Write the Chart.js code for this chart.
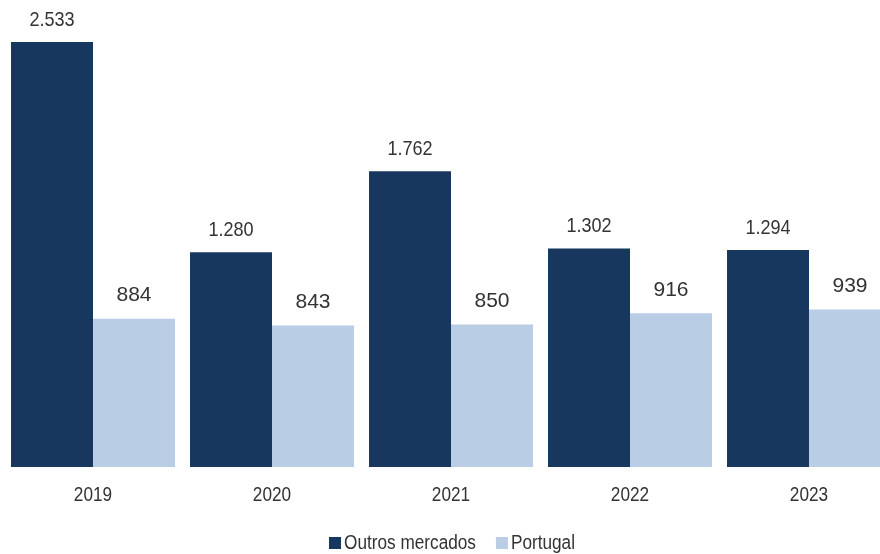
<!DOCTYPE html>
<html>
<head>
<meta charset="utf-8">
<script src="https://cdn.jsdelivr.net/npm/chart.js@4"></script>
<style>
  html, body { margin: 0; padding: 0; background: #fff; overflow: hidden; }
  #wrap { width: 902px; height: 554px; }
</style>
</head>
<body>
<div id="wrap"><canvas id="myChart" width="902" height="554"></canvas></div>
<script>
const years = ['2019', '2020', '2021', '2022', '2023']
const outrosMercados = [2533, 1280, 1762, 1302, 1294]
const portugal = [884, 843, 850, 916, 939]

const fontFamily = "'Liberation Sans', Arial, sans-serif"
const textColor = '#333333'
const narrowScale = 0.86 // the source uses a condensed face, squeeze the text instead

// 2533 -> "2.533"
const fmt = v => String(v).replace(/\B(?=(\d{3})+(?!\d))/g, '.')

// text drawn with an horizontal squeeze around x
function narrowText(ctx, text, x, y, align) {
  ctx.save()
  ctx.translate(x, y)
  ctx.scale(narrowScale, 1)
  ctx.textAlign = align || 'center'
  ctx.fillText(text, 0, 0)
  ctx.restore()
}

const extraText = {
  id: 'extraText',
  afterDatasetsDraw(chart) {
    const ctx = chart.ctx
    const area = chart.chartArea
    ctx.save()
    ctx.fillStyle = textColor
    ctx.textBaseline = 'middle'

    // values above the bars
    ctx.font = '21px ' + fontFamily
    chart.data.datasets.forEach((ds, i) => {
      chart.getDatasetMeta(i).data.forEach((bar, j) => {
        if (i === 0) {
          narrowText(ctx, fmt(ds.data[j]), bar.x, bar.y - 22)
        } else {
          ctx.textAlign = 'center'
          ctx.fillText(fmt(ds.data[j]), bar.x, bar.y - 23)
        }
      })
    })

    // category labels
    const xScale = chart.scales.x
    ctx.font = '20px ' + fontFamily
    chart.data.labels.forEach((lab, i) => {
      narrowText(ctx, lab, xScale.getPixelForTick(i), area.bottom + 28)
    })

    // legend
    const box = 12, gap = 3, itemGap = 20
    const items = chart.data.datasets.map(ds => ({
      text: ds.label,
      color: ds.backgroundColor,
      w: ctx.measureText(ds.label).width * narrowScale
    }))
    const total = items.reduce((s, it) => s + box + gap + it.w, 0) + itemGap * (items.length - 1)
    let x = (area.left + area.right) / 2 + 1 - total / 2
    const y = area.bottom + 76
    items.forEach(it => {
      ctx.fillStyle = it.color
      ctx.fillRect(x, y - box / 2, box, box)
      ctx.fillStyle = textColor
      narrowText(ctx, it.text, x + box + gap, y, 'left')
      x += box + gap + it.w + itemGap
    })
    ctx.restore()
  }
}

new Chart(document.getElementById('myChart'), {
  type: 'bar',
  data: {
    labels: years,
    datasets: [
      {
        label: 'Outros mercados',
        data: outrosMercados,
        backgroundColor: '#17375E',
        categoryPercentage: 0.916,
        barPercentage: 1
      },
      {
        label: 'Portugal',
        data: portugal,
        backgroundColor: '#B9CDE5',
        categoryPercentage: 0.916,
        barPercentage: 1
      }
    ]
  },
  options: {
    responsive: false,
    animation: false,
    layout: { padding: { left: 3.5, right: 3.5, top: 20, bottom: 87 } },
    scales: {
      x: {
        grid: { display: false, drawTicks: false },
        border: { display: false },
        ticks: { display: false }
      },
      y: {
        display: false,
        min: 0,
        max: 2664
      }
    },
    plugins: {
      legend: { display: false },
      tooltip: { enabled: false }
    }
  },
  plugins: [extraText]
})
</script>
</body>
</html>
